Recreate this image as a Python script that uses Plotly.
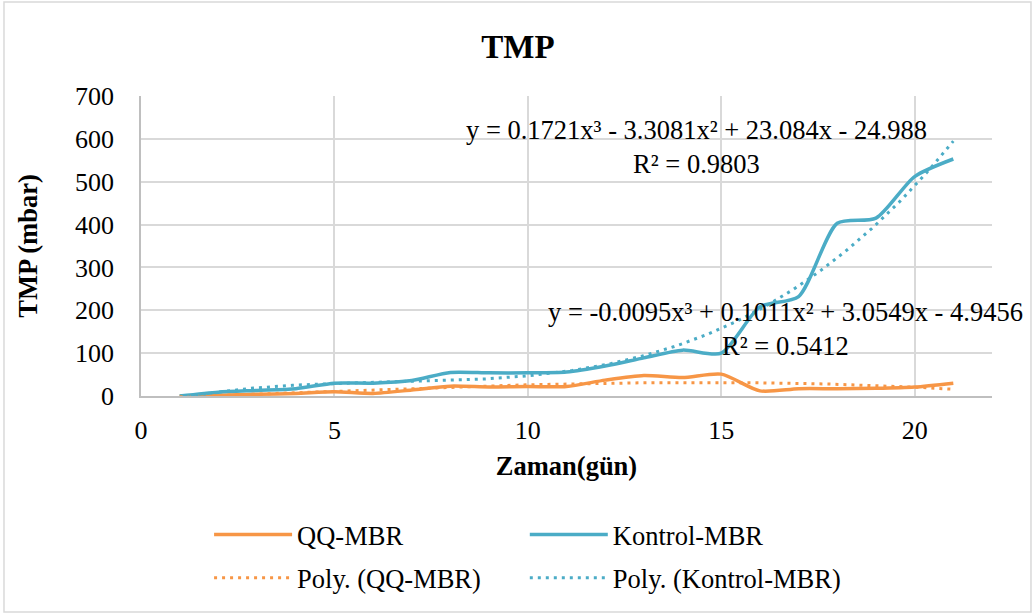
import numpy as np
import plotly.graph_objects as go

# ---- data ----
days = list(range(1, 22))
qq_mbr = [0, 2, 4, 6, 10, 6, 14, 23, 21, 22, 22, 37, 48, 43, 51, 12, 17, 17, 18, 21, 30]
kontrol_mbr = [0, 9, 13, 17, 30, 30, 36, 55, 54, 54, 56, 70, 89, 107, 100, 208, 232, 403, 415, 512, 553]

# polynomial trendline coefficients as printed on the chart (x^3, x^2, x, 1)
qq_poly_coef = [-0.0095, 0.1011, 3.0549, -4.9456]
kontrol_poly_coef = [0.1721, -3.3081, 23.084, -24.988]
qq_eq = ["y = -0.0095x³ + 0.1011x² + 3.0549x - 4.9456", "R² = 0.5412"]
kontrol_eq = ["y = 0.1721x³ - 3.3081x² + 23.084x - 24.988", "R² = 0.9803"]

x_ticks = [0, 5, 10, 15, 20]
y_ticks = [0, 100, 200, 300, 400, 500, 600, 700]

ORANGE = "#F79646"
BLUE = "#4BACC6"
FONT = "Liberation Serif"

xs = np.linspace(min(days), max(days), 200)

fig = go.Figure()
fig.add_trace(go.Scatter(x=days, y=qq_mbr, mode="lines", name="QQ-MBR", legend="legend",
                         line=dict(color=ORANGE, width=3.5, shape="spline", smoothing=0.7)))
fig.add_trace(go.Scatter(x=days, y=kontrol_mbr, mode="lines", name="Kontrol-MBR", legend="legend2",
                         line=dict(color=BLUE, width=3.5, shape="spline", smoothing=0.7)))
fig.add_trace(go.Scatter(x=xs, y=np.polyval(qq_poly_coef, xs), mode="lines", name="Poly. (QQ-MBR)",
                         legend="legend3", line=dict(color=ORANGE, width=3, dash="3px,5px")))
fig.add_trace(go.Scatter(x=xs, y=np.polyval(kontrol_poly_coef, xs), mode="lines",
                         name="Poly. (Kontrol-MBR)", legend="legend4",
                         line=dict(color=BLUE, width=3, dash="3px,5px")))

# trendline equation labels
fig.add_annotation(x=14.35, y=582, xref="x", yref="y", text="<br>".join(kontrol_eq),
                   showarrow=False, align="center", font=dict(family=FONT, size=26.5, color="#000"))
fig.add_annotation(x=16.65, y=157, xref="x", yref="y", text="<br>".join(qq_eq),
                   showarrow=False, align="center", font=dict(family=FONT, size=26.5, color="#000"))

# outer chart border
fig.add_shape(type="rect", xref="paper", yref="paper", x0=-0.161, x1=1.0458, y0=-0.72, y1=1.313,
              line=dict(color="#D9D9D9", width=1.5), fillcolor="rgba(0,0,0,0)", layer="below")

leg_common = dict(orientation="h", xanchor="left", yanchor="middle", itemwidth=78,
                  font=dict(family=FONT, size=26.5, color="#000"), bgcolor="rgba(0,0,0,0)")

fig.update_layout(
    width=1036, height=616,
    margin=dict(l=141, r=44, t=96, b=220),
    paper_bgcolor="white", plot_bgcolor="white",
    font=dict(family=FONT, size=26, color="#000"),
    title=dict(text="<b>TMP</b>", x=0.5, xanchor="center", y=0.925, yanchor="middle",
               font=dict(family=FONT, size=33, color="#000")),
    showlegend=True,
    legend=dict(x=0.08, y=-0.463, **leg_common),
    legend2=dict(x=0.451, y=-0.463, **leg_common),
    legend3=dict(x=0.08, y=-0.607, **leg_common),
    legend4=dict(x=0.451, y=-0.607, **leg_common),
    xaxis=dict(range=[0, 22], tickvals=x_ticks, showgrid=True, gridcolor="#D9D9D9", gridwidth=1.5,
               zeroline=False, showline=True, linecolor="#BFBFBF", linewidth=1.5,
               ticks="", ticklabelstandoff=10, tickfont=dict(family=FONT, size=26),
               title=dict(text="<b>Zaman(gün)</b>", font=dict(family=FONT, size=26.5), standoff=12)),
    yaxis=dict(range=[0, 700], tickvals=y_ticks, showgrid=True, gridcolor="#D9D9D9", gridwidth=1.5,
               zeroline=False, showline=True, linecolor="#BFBFBF", linewidth=1.5,
               ticks="", ticklabelstandoff=20, tickfont=dict(family=FONT, size=26),
               title=dict(text="<b>TMP (mbar)</b>", font=dict(family=FONT, size=26.5), standoff=30)),
)

fig.write_html("out.html")
